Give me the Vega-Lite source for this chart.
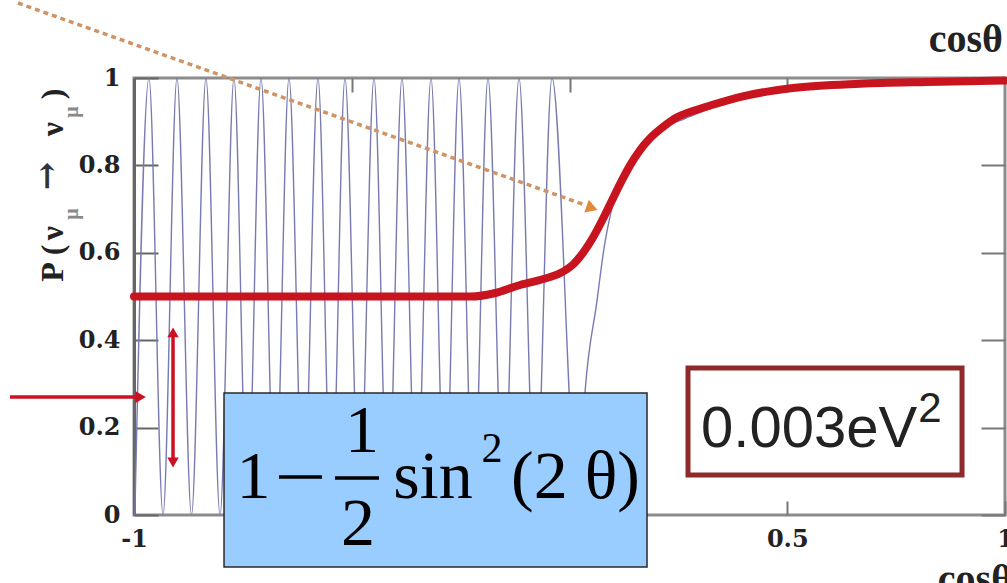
{
  "$schema": "https://vega.github.io/schema/vega-lite/v6.json",
  "width": 871,
  "height": 437,
  "autosize": "none",
  "padding": {"left": 134, "top": 78, "right": 2, "bottom": 68},
  "background": "white",
  "config": {
    "view": {"stroke": "#8c8c8c", "strokeWidth": 3},
    "axis": {"grid": false}
  },
  "datasets": {
    "blue": [
      {"c": -0.998, "p": 0}, {"c": -0.9656, "p": 1}, {"c": -0.9334, "p": 0}, {"c": -0.9013, "p": 1},
      {"c": -0.868, "p": 0}, {"c": -0.8347, "p": 1}, {"c": -0.8025, "p": 0}, {"c": -0.7704, "p": 1},
      {"c": -0.7394, "p": 0}, {"c": -0.7084, "p": 1}, {"c": -0.6762, "p": 0}, {"c": -0.6441, "p": 1},
      {"c": -0.6108, "p": 0}, {"c": -0.5775, "p": 1}, {"c": -0.5465, "p": 0}, {"c": -0.5155, "p": 1},
      {"c": -0.4822, "p": 0}, {"c": -0.4489, "p": 1}, {"c": -0.4168, "p": 0}, {"c": -0.3846, "p": 1},
      {"c": -0.3513, "p": 0}, {"c": -0.318, "p": 1}, {"c": -0.2859, "p": 0}, {"c": -0.2537, "p": 1},
      {"c": -0.2204, "p": 0}, {"c": -0.1871, "p": 1}, {"c": -0.1515, "p": 0}, {"c": -0.116, "p": 1},
      {"c": -0.0781, "p": 0}, {"c": -0.0402, "p": 1}, {"c": 0.0195, "p": 0.01}, {"c": 0.0356, "p": 0.28},
      {"c": 0.0631, "p": 0.49}, {"c": 0.0792, "p": 0.61}, {"c": 0.1022, "p": 0.72}, {"c": 0.1251, "p": 0.78},
      {"c": 0.1573, "p": 0.84}, {"c": 0.2113, "p": 0.885}, {"c": 0.26, "p": 0.905}, {"c": 0.4, "p": 0.955},
      {"c": 0.67, "p": 0.985}, {"c": 1.0, "p": 0.993}
    ],
    "red": [
      {"c": -1, "p": 0.5}, {"c": -0.228, "p": 0.5}, {"c": -0.17, "p": 0.508}, {"c": -0.121, "p": 0.524},
      {"c": -0.06, "p": 0.54}, {"c": -0.022, "p": 0.553}, {"c": 0.01, "p": 0.575}, {"c": 0.031, "p": 0.6},
      {"c": 0.054, "p": 0.635}, {"c": 0.078, "p": 0.68}, {"c": 0.1, "p": 0.725}, {"c": 0.12, "p": 0.765},
      {"c": 0.139, "p": 0.8}, {"c": 0.162, "p": 0.835}, {"c": 0.185, "p": 0.862}, {"c": 0.215, "p": 0.888},
      {"c": 0.247, "p": 0.91}, {"c": 0.285, "p": 0.925}, {"c": 0.323, "p": 0.937}, {"c": 0.398, "p": 0.958},
      {"c": 0.513, "p": 0.977}, {"c": 0.667, "p": 0.987}, {"c": 0.821, "p": 0.991}, {"c": 1.0, "p": 0.994}
    ],
    "orangeLine": [{"c": -1.2664, "p": 1.1716, "c2": 0.0356, "p2": 0.7094}],
    "orangeHead": [{"c": 0.0517, "p": 0.7025}],
    "redLines": [
      {"c": -0.9104, "p": 0.13, "c2": -0.9104, "p2": 0.41},
      {"c": -1.2847, "p": 0.27, "c2": -0.995, "p2": 0.27}
    ],
    "headUp": [{"c": -0.9104, "p": 0.418}],
    "headDown": [{"c": -0.9104, "p": 0.12}],
    "headRight": [{"c": -0.985, "p": 0.27}],
    "evalBox": [{"c": 0.2721, "c2": 0.9013, "p": 0.3364, "p2": 0.0915}],
    "evalText": [{"t": "0.003eV", "c": 0.302, "p": 0.1556}],
    "evalSup": [{"t": "2", "c": 0.8278, "p": 0.2128}],
    "formBox": [{"c": -0.7933, "c2": 0.178, "p": 0.2792, "p2": -0.119}],
    "formText": [
      {"t": "1", "c": -0.7256, "p": 0.0389},
      {"t": "1", "c": -0.4765, "p": 0.1442},
      {"t": "2", "c": -0.4857, "p": -0.0686},
      {"t": "sin", "c": -0.3134, "p": 0.0389},
      {"t": "(2 θ)", "c": 0.0138, "p": 0.0389}
    ],
    "formSup": [{"t": "2", "c": -0.1779, "p": 0.1213}],
    "formBars": [
      {"c": -0.667, "c2": -0.5683, "p": 0.087, "p2": 0.087},
      {"c": -0.5385, "c2": -0.4374, "p": 0.0847, "p2": 0.0847}
    ],
    "yTitle": [
      {"t": "P", "c": -1.163, "p": 0.5561},
      {"t": "(", "c": -1.163, "p": 0.6064},
      {"t": "ν", "c": -1.163, "p": 0.6453},
      {"t": "ν", "c": -1.163, "p": 0.8833},
      {"t": ")", "c": -1.163, "p": 0.9634}
    ],
    "yTitleArrow": [{"t": "→", "c": -1.1745, "p": 0.7757}],
    "yTitleSub": [
      {"t": "μ", "c": -1.1286, "p": 0.6888},
      {"t": "μ", "c": -1.1286, "p": 0.9222}
    ],
    "cosLabels": [
      {"t": "cosθ", "c": 0.9954, "p": 1.0595},
      {"t": "cosθ", "c": 1.0161, "p": -0.1762}
    ]
  },
  "layer": [
    {
      "data": {"name": "blue"},
      "mark": {"type": "line", "interpolate": "monotone", "color": "#7a7ab2", "strokeWidth": 1.4, "clip": false},
      "encoding": {
        "x": {"field": "c", "type": "quantitative", "scale": {"domain": [-1, 1], "nice": false, "zero": false},
          "axis": {"orient": "bottom", "values": [-1, -0.5, 0, 0.5, 1], "format": "~g",
            "labelExpr": "datum.value == -0.5 || datum.value == 0 ? '' : replace(datum.label, '−', '-')",
            "tickSize": -14, "tickWidth": 2, "tickColor": "#777", "labelPadding": 26, "labelFont": "DejaVu Serif",
            "labelFontWeight": "bold", "labelFontSize": 24, "labelColor": "#222", "labelFlush": false, "labelOverlap": false,
            "labelBound": false, "title": null, "domain": false}},
        "y": {"field": "p", "type": "quantitative", "scale": {"domain": [0, 1], "nice": false, "zero": false},
          "axis": {"orient": "left", "values": [0, 0.2, 0.4, 0.6, 0.8, 1], "format": "~g",
            "tickSize": -24, "tickWidth": 2, "tickColor": "#666", "labelPadding": 38, "labelFont": "DejaVu Serif",
            "labelFontWeight": "bold", "labelFontSize": 24, "labelColor": "#222", "labelOverlap": false,
            "title": null, "domain": true, "domainColor": "#666", "domainWidth": 3}}
      }
    },
    {
      "data": {"name": "red"},
      "mark": {"type": "line", "interpolate": "monotone", "color": "#c8141e", "strokeWidth": 8, "strokeCap": "round", "clip": false},
      "encoding": {
        "x": {"field": "c", "type": "quantitative",
          "axis": {"orient": "top", "values": [-0.5, 0, 0.5], "tickSize": -14, "tickWidth": 2, "tickColor": "#777",
            "labels": false, "title": null, "domain": false}},
        "y": {"field": "p", "type": "quantitative",
          "axis": {"orient": "right", "values": [0, 0.2, 0.4, 0.6, 0.8, 1], "tickSize": -24, "tickWidth": 2, "tickColor": "#777",
            "labels": false, "title": null, "domain": false}}
      }
    },
    {
      "data": {"name": "orangeLine"},
      "mark": {"type": "rule", "color": "#cf9466", "strokeWidth": 3.5, "strokeDash": [5, 4], "clip": false},
      "encoding": {
        "x": {"field": "c", "type": "quantitative", "axis": null},
        "y": {"field": "p", "type": "quantitative", "axis": null},
        "x2": {"field": "c2"},
        "y2": {"field": "p2"}
      }
    },
    {
      "data": {"name": "orangeHead"},
      "mark": {"type": "point", "shape": "triangle-right", "angle": 19.6, "size": 180, "filled": true, "color": "#e08a3a", "opacity": 1, "clip": false},
      "encoding": {
        "x": {"field": "c", "type": "quantitative", "axis": null},
        "y": {"field": "p", "type": "quantitative", "axis": null}
      }
    },
    {
      "data": {"name": "redLines"},
      "mark": {"type": "rule", "color": "#cc1122", "strokeWidth": 3.5, "clip": false},
      "encoding": {
        "x": {"field": "c", "type": "quantitative", "axis": null},
        "y": {"field": "p", "type": "quantitative", "axis": null},
        "x2": {"field": "c2"},
        "y2": {"field": "p2"}
      }
    },
    {
      "data": {"name": "headUp"},
      "mark": {"type": "point", "shape": "triangle-up", "size": 130, "filled": true, "color": "#cc1122", "opacity": 1, "clip": false},
      "encoding": {
        "x": {"field": "c", "type": "quantitative", "axis": null},
        "y": {"field": "p", "type": "quantitative", "axis": null}
      }
    },
    {
      "data": {"name": "headDown"},
      "mark": {"type": "point", "shape": "triangle-down", "size": 130, "filled": true, "color": "#cc1122", "opacity": 1, "clip": false},
      "encoding": {
        "x": {"field": "c", "type": "quantitative", "axis": null},
        "y": {"field": "p", "type": "quantitative", "axis": null}
      }
    },
    {
      "data": {"name": "headRight"},
      "mark": {"type": "point", "shape": "triangle-right", "size": 150, "filled": true, "color": "#cc1122", "opacity": 1, "clip": false},
      "encoding": {
        "x": {"field": "c", "type": "quantitative", "axis": null},
        "y": {"field": "p", "type": "quantitative", "axis": null}
      }
    },
    {
      "data": {"name": "evalBox"},
      "mark": {"type": "rect", "fill": "white", "stroke": "#8e2a2a", "strokeWidth": 5, "clip": false},
      "encoding": {
        "x": {"field": "c", "type": "quantitative", "axis": null},
        "x2": {"field": "c2"},
        "y": {"field": "p", "type": "quantitative", "axis": null},
        "y2": {"field": "p2"}
      }
    },
    {
      "data": {"name": "evalText"},
      "mark": {"type": "text", "align": "left", "baseline": "alphabetic", "font": "Liberation Sans", "fontSize": 58, "color": "#222", "clip": false},
      "encoding": {
        "x": {"field": "c", "type": "quantitative", "axis": null},
        "y": {"field": "p", "type": "quantitative", "axis": null},
        "text": {"field": "t"}
      }
    },
    {
      "data": {"name": "evalSup"},
      "mark": {"type": "text", "align": "center", "baseline": "alphabetic", "font": "Liberation Sans", "fontSize": 42, "color": "#222", "clip": false},
      "encoding": {
        "x": {"field": "c", "type": "quantitative", "axis": null},
        "y": {"field": "p", "type": "quantitative", "axis": null},
        "text": {"field": "t"}
      }
    },
    {
      "data": {"name": "formBox"},
      "mark": {"type": "rect", "fill": "#99ccff", "stroke": "#2a2a2a", "strokeWidth": 1.5, "clip": false},
      "encoding": {
        "x": {"field": "c", "type": "quantitative", "axis": null},
        "x2": {"field": "c2"},
        "y": {"field": "p", "type": "quantitative", "axis": null},
        "y2": {"field": "p2"}
      }
    },
    {
      "data": {"name": "formText"},
      "mark": {"type": "text", "align": "center", "baseline": "alphabetic", "font": "Liberation Serif", "fontSize": 68, "color": "black", "clip": false},
      "encoding": {
        "x": {"field": "c", "type": "quantitative", "axis": null},
        "y": {"field": "p", "type": "quantitative", "axis": null},
        "text": {"field": "t"}
      }
    },
    {
      "data": {"name": "formSup"},
      "mark": {"type": "text", "align": "center", "baseline": "alphabetic", "font": "Liberation Serif", "fontSize": 42, "color": "black", "clip": false},
      "encoding": {
        "x": {"field": "c", "type": "quantitative", "axis": null},
        "y": {"field": "p", "type": "quantitative", "axis": null},
        "text": {"field": "t"}
      }
    },
    {
      "data": {"name": "formBars"},
      "mark": {"type": "rule", "color": "black", "strokeWidth": 3.5, "clip": false},
      "encoding": {
        "x": {"field": "c", "type": "quantitative", "axis": null},
        "y": {"field": "p", "type": "quantitative", "axis": null},
        "x2": {"field": "c2"},
        "y2": {"field": "p2"}
      }
    },
    {
      "data": {"name": "yTitle"},
      "mark": {"type": "text", "angle": 270, "align": "center", "baseline": "alphabetic", "font": "Liberation Serif", "fontWeight": "bold", "fontSize": 32, "color": "#222", "clip": false},
      "encoding": {
        "x": {"field": "c", "type": "quantitative", "axis": null},
        "y": {"field": "p", "type": "quantitative", "axis": null},
        "text": {"field": "t"}
      }
    },
    {
      "data": {"name": "yTitleArrow"},
      "mark": {"type": "text", "angle": 270, "align": "center", "baseline": "alphabetic", "font": "DejaVu Serif", "fontWeight": "bold", "fontSize": 34, "color": "#333", "clip": false},
      "encoding": {
        "x": {"field": "c", "type": "quantitative", "axis": null},
        "y": {"field": "p", "type": "quantitative", "axis": null},
        "text": {"field": "t"}
      }
    },
    {
      "data": {"name": "yTitleSub"},
      "mark": {"type": "text", "angle": 270, "align": "center", "baseline": "alphabetic", "font": "Liberation Serif", "fontWeight": "bold", "fontSize": 20, "color": "#888", "clip": false},
      "encoding": {
        "x": {"field": "c", "type": "quantitative", "axis": null},
        "y": {"field": "p", "type": "quantitative", "axis": null},
        "text": {"field": "t"}
      }
    },
    {
      "data": {"name": "cosLabels"},
      "mark": {"type": "text", "align": "right", "baseline": "alphabetic", "font": "Liberation Serif", "fontWeight": "bold", "fontSize": 40, "color": "#222", "clip": false},
      "encoding": {
        "x": {"field": "c", "type": "quantitative", "axis": null},
        "y": {"field": "p", "type": "quantitative", "axis": null},
        "text": {"field": "t"}
      }
    }
  ],
  "resolve": {"axis": {"x": "independent", "y": "independent"}}
}
